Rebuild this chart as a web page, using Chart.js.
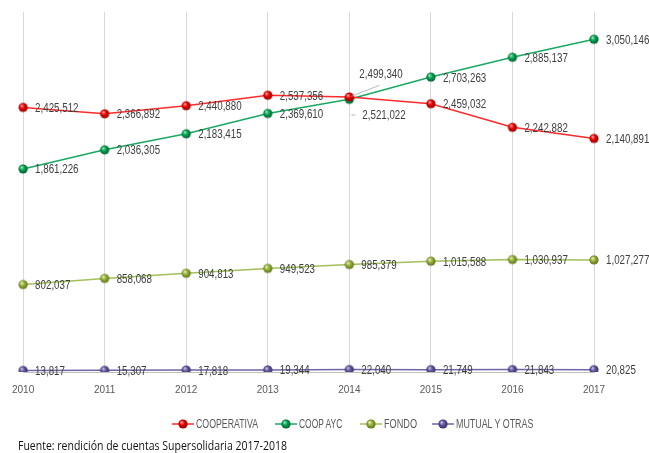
<!DOCTYPE html>
<html>
<head>
<meta charset="utf-8">
<script src="https://cdn.jsdelivr.net/npm/chart.js@4.4.0/dist/chart.umd.min.js"></script>
<style>
  html, body { margin: 0; padding: 0; background: #fff; }
  #wrap { position: relative; width: 649px; height: 453px; overflow: hidden; }
  #wrap canvas#chart { position: absolute; left: 0; top: 0; }
  .lg { position: absolute; }
  .lgtxt { position: absolute; top: 416px; font: 12.5px "Liberation Sans", Arial, sans-serif; color: #595959;
           white-space: nowrap; transform-origin: 0 50%; line-height: 16px; }
  #source { position: absolute; left: 18px; top: 438px; font: 12.5px "Open Sans", "Liberation Sans", sans-serif; color: #111;
            white-space: nowrap; transform-origin: 0 50%; line-height: 16px; }
</style>
</head>
<body>
<div id="wrap">
  <canvas id="chart" width="649" height="453"></canvas>
  <div id="source">Fuente: rendición de cuentas Supersolidaria 2017-2018</div>
</div>
<script>
// ---- data ----
const years = ['2010', '2011', '2012', '2013', '2014', '2015', '2016', '2017'];
const seriesNames = ['COOPERATIVA', 'COOP AYC', 'FONDO', 'MUTUAL Y OTRAS'];
const cooperativa = [2425512, 2366892, 2440880, 2537356, 2521022, 2459032, 2242882, 2140891];
const coopAyc = [1861226, 2036305, 2183415, 2369610, 2499340, 2703263, 2885137, 3050146];
const fondo = [802037, 858068, 904813, 949523, 985379, 1015588, 1030937, 1027277];
const mutual = [13817, 15307, 17818, 19344, 22040, 21749, 21843, 20825];

// ---- styles ----
const palette = [
  { line: '#ff2b2b', light: '#ff9a9a', mid: '#e80000', dark: '#9a0000' },
  { line: '#19a862', light: '#8ce8b4', mid: '#00a34f', dark: '#005e2e' },
  { line: '#a3bf5a', light: '#e2efa6', mid: '#94b03c', dark: '#5c7219' },
  { line: '#6e66a8', light: '#c2bcec', mid: '#5e5698', dark: '#35306a' }
];

function sphere(c, r) {
  const s = Math.ceil(r * 2) + 2;
  const cv = document.createElement('canvas');
  cv.width = s; cv.height = s;
  const g = cv.getContext('2d');
  const cx = s / 2, cy = s / 2;
  const grad = g.createRadialGradient(cx - r * 0.35, cy - r * 0.4, r * 0.1, cx, cy, r);
  grad.addColorStop(0, c.light);
  grad.addColorStop(0.45, c.mid);
  grad.addColorStop(1, c.dark);
  g.fillStyle = grad;
  g.beginPath(); g.arc(cx, cy, r, 0, Math.PI * 2); g.fill();
  return cv;
}

const sphereImgs = palette.map(c => sphere(c, 4.6));

// label placement tweaks (style only)
const labelOverrides = {
  '1-4': { dx: 10, dy: -25, leader: [[2, -3], [30, -14]] },
  '0-4': { dx: 13, dy: 19, leader: [[2, 18], [6, 18]] }
};

const LABEL_SCALE = 0.78;

const dataLabels = {
  id: 'dataLabels',
  afterDatasetsDraw(chart) {
    const ctx = chart.ctx;
    ctx.save();
    ctx.font = '12.5px "Liberation Sans", Arial, sans-serif';
    ctx.fillStyle = '#404040';
    ctx.textAlign = 'left';
    ctx.textBaseline = 'middle';
    chart.data.datasets.forEach((ds, di) => {
      const meta = chart.getDatasetMeta(di);
      meta.data.forEach((pt, i) => {
        const txt = ds.data[i].toLocaleString('en-US');
        const ov = labelOverrides[di + '-' + i];
        let x = pt.x + 12, y = pt.y + 1;
        if (ov) {
          x = pt.x + ov.dx; y = pt.y + ov.dy;
          ctx.save();
          ctx.strokeStyle = '#a6a6a6';
          ctx.lineWidth = 0.8;
          ctx.beginPath();
          ctx.moveTo(pt.x + ov.leader[0][0], pt.y + ov.leader[0][1]);
          ctx.lineTo(pt.x + ov.leader[1][0], pt.y + ov.leader[1][1]);
          ctx.stroke();
          ctx.restore();
        }
        ctx.save();
        ctx.translate(x, y);
        ctx.scale(LABEL_SCALE, 1);
        ctx.fillText(txt, 0, 0);
        ctx.restore();
      });
    });
    ctx.restore();
  }
};

const seriesData = [cooperativa, coopAyc, fondo, mutual];

const datasets = seriesData.map((d, k) => ({
  label: seriesNames[k],
  data: d,
  borderColor: palette[k].line,
  borderWidth: 1.5,
  pointStyle: sphereImgs[k],
  pointRadius: 4.6,
  tension: 0,
  fill: false
}));

new Chart(document.getElementById('chart'), {
  type: 'line',
  data: { labels: years, datasets: datasets },
  options: {
    responsive: false,
    animation: false,
    events: [],
    layout: { padding: { left: 23, right: 55, top: 12, bottom: 45 } },
    plugins: { legend: { display: false }, tooltip: { enabled: false } },
    scales: {
      x: {
        offset: false,
        grid: { display: true, color: '#d9d9d9', lineWidth: 1, drawTicks: false },
        border: { display: true, color: '#bfbfbf', width: 1 },
        ticks: {
          padding: 12,
          color: '#595959',
          font: { family: '"Liberation Sans", Arial, sans-serif', size: 10 },
          maxRotation: 0, autoSkip: false
        }
      },
      y: {
        display: false,
        min: 0,
        max: 3300000
      }
    }
  },
  plugins: [dataLabels]
});

// ---- HTML legend ----
const wrap = document.getElementById('wrap');
const legendMarkerX = [172, 275, 360, 432];
const legendTextW = [62, 44, 33, 78];
const mctx = document.createElement('canvas').getContext('2d');
seriesNames.forEach((name, k) => {
  const cv = document.createElement('canvas');
  cv.width = 22; cv.height = 12;
  cv.className = 'lg';
  cv.style.left = legendMarkerX[k] + 'px';
  cv.style.top = '418px';
  const g = cv.getContext('2d');
  g.strokeStyle = palette[k].line; g.lineWidth = 1.5;
  g.beginPath(); g.moveTo(0, 6); g.lineTo(22, 6); g.stroke();
  const img = sphereImgs[k];
  g.drawImage(img, 11 - img.width / 2, 6 - img.height / 2);
  wrap.appendChild(cv);
  const span = document.createElement('div');
  span.className = 'lgtxt';
  span.textContent = name;
  span.style.left = (legendMarkerX[k] + 24) + 'px';
  wrap.appendChild(span);
  mctx.font = '12.5px "Liberation Sans", Arial, sans-serif';
  const w = mctx.measureText(name).width;
  span.style.transform = 'scaleX(' + (legendTextW[k] / w).toFixed(3) + ')';
});
const src = document.getElementById('source');
mctx.font = '12.5px "Open Sans", "Liberation Sans", sans-serif';
const sw = mctx.measureText(src.textContent).width;
src.style.transform = 'scaleX(' + (269 / sw).toFixed(3) + ')';
</script>
</body>
</html>
